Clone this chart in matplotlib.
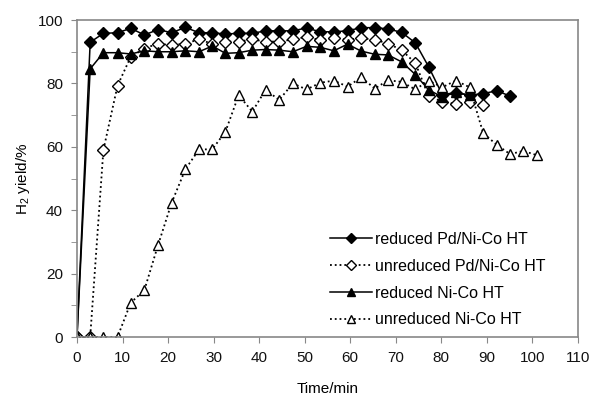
import numpy as np
import matplotlib
matplotlib.use("Agg")
from matplotlib import pyplot as plt
from matplotlib.ticker import MultipleLocator

plt.rcParams['font.family'] = ['Liberation Sans', 'DejaVu Sans']
plt.rcParams['mathtext.default'] = 'regular'

# sampling times (min)
time = [0, 2.9, 5.8, 8.9, 11.8, 14.8, 17.8, 20.8, 23.8, 26.8, 29.7, 32.6,
        35.5, 38.5, 41.4, 44.4, 47.4, 50.4, 53.4, 56.4, 59.4, 62.4, 65.4,
        68.3, 71.3, 74.3, 77.2, 80.2, 83.2, 86.2, 89.2, 92.2, 95.1, 98.0,
        100.9]

red_pd = [0, 93, 95.8, 96, 97.4, 95.3, 97, 96, 97.7, 96, 96, 95.6, 95.8,
          95.8, 96.6, 96.6, 96.6, 97.5, 96.3, 96.3, 96.6, 97.6, 97.6, 97.2,
          96.1, 92.8, 85.3, 76.5, 77.1, 76.3, 76.8, 77.7, 76]
unred_pd = [0, 0, 59, 79.3, 88.4, 91, 92.6, 92, 92.6, 93.9, 92.5, 93.2,
            93.2, 93.9, 93.2, 93.2, 93.9, 94.7, 93.7, 94.3, 93.8, 94.3, 93.8,
            92.6, 90.5, 86.4, 76, 74.3, 73.5, 74.2, 73.2]
red_nico = [0, 84.6, 89.7, 89.7, 89.3, 90.3, 90, 90, 90.3, 90, 91.8, 89.5,
            89.7, 90.5, 90.7, 90.5, 90, 91.7, 91.4, 90.3, 92.4, 90.2, 89.2,
            89, 86.8, 82.8, 78, 75.7, 77.2, 76.2]
unred_nico = [0, 0, 0, 0, 10.8, 14.8, 29, 42.4, 52.9, 59.2, 59.2, 64.8,
              76.3, 71.1, 78, 74.8, 80, 78.1, 80.2, 80.9, 79, 81.9, 78.4, 81,
              80.5, 78.1, 80.9, 78.8, 80.9, 78.8, 64.3, 60.6, 57.7, 58.7, 57.4]

labels = ['reduced Pd/Ni-Co HT', 'unreduced Pd/Ni-Co HT',
          'reduced Ni-Co HT', 'unreduced Ni-Co HT']


def main():
    fig = plt.figure(figsize=(5.94, 4.01), dpi=100)
    ax = fig.add_axes([0.1296, 0.1596, 0.8434, 0.7904])

    ax.plot(time[:len(red_pd)], red_pd, '-', color='black', lw=1.1,
            marker='D', ms=6.5, mfc='black', mec='black', label=labels[0])
    ax.plot(time[:len(unred_pd)], unred_pd, ':', color='black', lw=1.3,
            marker='D', ms=6.5, mfc='white', mec='black', mew=1.0,
            label=labels[1])
    ax.plot(time[:len(red_nico)], red_nico, '-', color='black', lw=1.1,
            marker='^', ms=7.5, mfc='black', mec='black', label=labels[2])
    ax.plot(time[:len(unred_nico)], unred_nico, ':', color='black', lw=1.3,
            marker='^', ms=7.5, mfc='white', mec='black', mew=1.0,
            label=labels[3])

    ax.set_xlim(0, 110)
    ax.set_ylim(0, 100)
    ax.xaxis.set_major_locator(MultipleLocator(10))
    ax.yaxis.set_major_locator(MultipleLocator(20))
    ax.yaxis.set_minor_locator(MultipleLocator(10))
    ax.tick_params(direction='out', length=4, color='#888888',
                   labelsize=11, labelcolor='#111111', pad=6)
    ax.tick_params(which='minor', direction='out', length=4, color='#888888')
    for s in ax.spines.values():
        s.set_color('#888888')
        s.set_linewidth(1.2)

    ax.set_xlabel('Time/min', fontsize=11, labelpad=12)
    ax.set_ylabel('H$_2$ yield/%', fontsize=11, labelpad=4)

    ax.legend(loc='lower left', bbox_to_anchor=(0.505, 0.03), frameon=False,
              fontsize=11.5, handlelength=2.6, handletextpad=0.2,
              labelspacing=0.75, borderpad=0, borderaxespad=0,
              markerscale=0.75)

    fig.savefig('out.png', dpi=100)


if __name__ == '__main__':
    main()
